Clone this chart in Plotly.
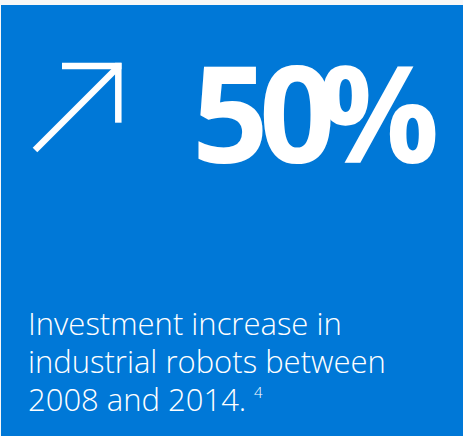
import plotly.graph_objects as go

# ---- content ----
headline = "50%"
headline_tracking = [-9.6, -16.8, 0]   # per-glyph letter-spacing (px), tight headline tracking
caption_lines = ["Investment increase in", "industrial robots between", "2008 and 2014."]
caption_centers_y = [323, 361, 399]
footnote = "4"

W, H = 463, 436
BLUE = "#0078D7"
WHITE = "#FFFFFF"

fig = go.Figure()
fig.add_trace(go.Scatter(x=[0, W], y=[0, H], mode="markers",
                         marker=dict(opacity=0), hoverinfo="skip", showlegend=False))

shapes = [
    dict(type="rect", x0=1, x1=W, y0=5, y1=H, fillcolor=BLUE, line=dict(width=0), layer="below"),
    # arrow
    dict(type="line", x0=35, y0=150, x1=117, y1=68, line=dict(color=WHITE, width=6.5)),
    dict(type="line", x0=62, y0=66, x1=121.5, y1=66, line=dict(color=WHITE, width=6.5)),
    dict(type="line", x0=118.3, y0=62.8, x1=118.3, y1=122.7, line=dict(color=WHITE, width=6.5)),
]

headline_html = "".join(
    f'<span style="letter-spacing:{ls}px">{ch}</span>' if ls else ch
    for ch, ls in zip(headline, headline_tracking)
)

annotations = [dict(x=191, y=111, text=headline_html, showarrow=False, xanchor="left", yanchor="middle",
                    borderpad=0,
                    font=dict(family="Open Sans", size=134, color=WHITE, weight=700))]
for line, cy in zip(caption_lines, caption_centers_y):
    annotations.append(dict(x=27, y=cy, text=line, showarrow=False, xanchor="left", yanchor="middle",
                            borderpad=0,
                            font=dict(family="Open Sans", size=31, color=WHITE, weight=300)))
annotations.append(dict(x=253, y=392, text=footnote, showarrow=False, xanchor="left", yanchor="middle",
                        borderpad=0, font=dict(family="Open Sans", size=15, color=WHITE, weight=300)))

fig.update_layout(
    width=W, height=H,
    margin=dict(l=0, r=0, t=0, b=0),
    paper_bgcolor="#F7F7F7", plot_bgcolor="#F7F7F7",
    xaxis=dict(range=[0, W], visible=False, fixedrange=True),
    yaxis=dict(range=[H, 0], visible=False, fixedrange=True),
    shapes=shapes, annotations=annotations,
    showlegend=False,
)
fig.write_html("out.html", config={"displayModeBar": False},
               post_script="document.body.style.margin='0';document.body.style.overflow='hidden';")
